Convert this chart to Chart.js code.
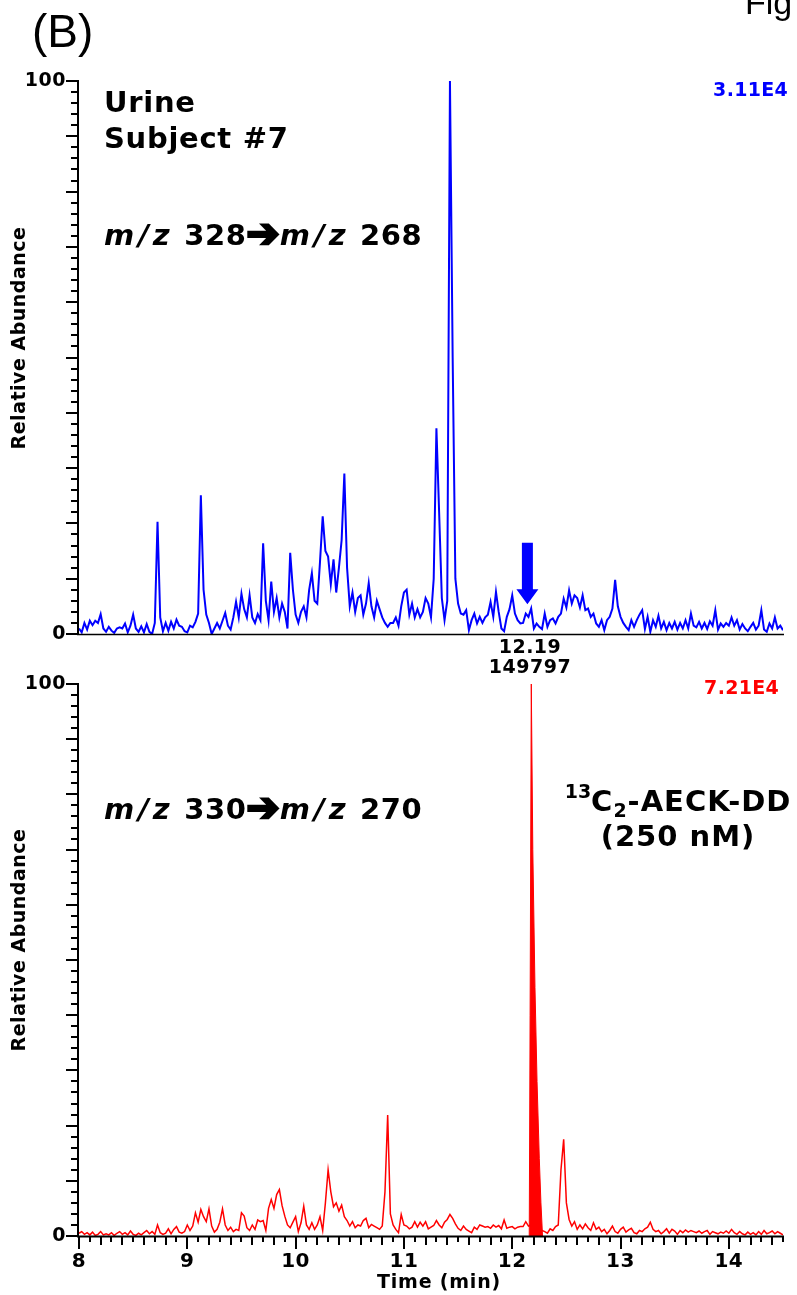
<!DOCTYPE html>
<html>
<head>
<meta charset="utf-8">
<script src="https://cdn.jsdelivr.net/npm/chart.js@4.4.1/dist/chart.umd.min.js"></script>
<style>
  html, body { margin: 0; padding: 0; background: #fff; }
  #wrap { position: relative; width: 797px; height: 1295px; overflow: hidden; }
  canvas { position: absolute; left: 0; }
  #top { top: 0; }
  #bot { top: 640px; }
</style>
</head>
<body>
<div id="wrap">
  <canvas id="top" width="797" height="700"></canvas>
  <canvas id="bot" width="797" height="655"></canvas>
</div>
<script>
// sampling grid of the chromatograms (min)
const T0 = 8.0;
const DT = 0.025;

// m/z 328 -> 268, relative abundance (%)
const blueAbund = [
  1.0, 0.3, 2.0, 0.8, 2.4, 1.6, 2.4, 2.0, 3.6, 1.0,
  0.4, 1.3, 0.6, 0.2, 1.0, 1.2, 1.0, 1.9, 0.3, 1.5,
  3.5, 1.0, 0.4, 1.4, 0.3, 1.8, 0.4, 0.0, 2.0, 20.3,
  3.0, 0.5, 2.0, 0.6, 2.2, 1.0, 2.6, 1.5, 1.3, 0.5,
  0.3, 1.5, 1.2, 2.2, 3.7, 25.1, 8.0, 3.5, 2.0, 0.0,
  1.0, 2.0, 1.0, 2.4, 3.8, 1.5, 0.8, 3.0, 5.8, 3.0,
  7.3, 4.5, 3.0, 7.0, 3.0, 2.0, 3.6, 2.5, 16.4, 6.0,
  2.5, 9.5, 4.0, 6.5, 3.0, 5.5, 4.0, 1.0, 14.7, 8.0,
  3.5, 2.0, 4.0, 5.0, 3.0, 8.0, 11.0, 6.0, 5.5, 13.0,
  21.3, 15.0, 14.0, 9.0, 13.5, 7.5, 12.0, 17.0, 29.0, 12.0,
  5.0, 7.5, 4.0, 6.5, 7.0, 3.5, 5.5, 9.2, 5.0, 3.0,
  6.0, 4.5, 3.0, 2.0, 1.3, 2.0, 2.0, 3.0, 1.5, 5.0,
  7.5, 8.0, 3.5, 5.5, 3.0, 4.5, 3.0, 4.0, 6.5, 5.5,
  3.0, 10.0, 37.2, 22.0, 6.5, 2.5, 6.0, 100, 50, 10,
  5.5, 3.7, 3.5, 4.3, 0.7, 2.5, 3.7, 1.9, 3.1, 2.0,
  3.0, 3.5, 5.8, 3.1, 7.6, 4.0, 1.0, 0.5, 3.1, 4.5,
  7.0, 3.7, 2.5, 1.9, 2.0, 3.7, 3.1, 4.6, 1.0, 1.9,
  1.3, 0.9, 3.7, 1.3, 2.5, 2.8, 1.9, 3.1, 3.7, 6.4,
  4.8, 7.9, 5.5, 7.0, 6.5, 4.8, 7.0, 4.3, 4.6, 3.1,
  3.7, 1.9, 1.3, 2.5, 0.7, 2.5, 3.1, 4.6, 9.8, 5.0,
  3.1, 2.0, 1.3, 0.7, 2.5, 1.3, 2.5, 3.5, 4.3, 0.9,
  3.1, 0.4, 2.5, 1.3, 3.3, 1.0, 2.2, 0.7, 2.0, 1.0,
  2.2, 0.8, 2.0, 1.0, 2.5, 1.0, 3.7, 1.5, 1.2, 2.2,
  1.0, 2.0, 0.9, 2.3, 1.5, 4.3, 0.8, 1.9, 1.3, 2.0,
  1.5, 3.0, 1.5, 2.5, 0.8, 1.8, 1.0, 0.5, 1.3, 2.0,
  0.8, 1.5, 4.3, 0.8, 0.4, 1.9, 1.0, 3.0, 1.0, 1.5, 0.7
];

// m/z 330 -> 270, relative abundance (%)
const redAbund = [
  0.5, 0.8, 0.3, 0.6, 0.2, 0.7, 0.1, 0.3, 0.8, 0.2,
  0.4, 0.2, 0.6, 0.1, 0.5, 0.8, 0.3, 0.6, 0.2, 0.9,
  0.3, 0.1, 0.5, 0.2, 0.6, 1.0, 0.4, 0.8, 0.3, 2.0,
  0.6, 0.3, 0.5, 1.3, 0.4, 1.2, 1.7, 0.7, 0.5, 0.8,
  2.0, 1.0, 1.8, 4.2, 2.5, 4.8, 3.5, 2.6, 4.9, 1.8,
  0.7, 1.2, 2.5, 4.9, 2.0, 1.0, 1.6, 0.8, 1.2, 1.0,
  4.2, 3.6, 1.5, 1.0, 2.0, 1.2, 2.9, 2.6, 2.8, 1.0,
  5.0, 6.6, 5.0, 7.5, 8.4, 5.5, 3.6, 2.0, 1.5, 2.5,
  3.5, 0.8, 2.4, 5.4, 2.0, 1.2, 2.4, 1.2, 2.0, 3.5,
  1.0, 6.0, 12.0, 8.0, 5.3, 6.0, 4.5, 5.6, 3.5, 2.8,
  1.8, 2.6, 1.5, 2.0, 1.8, 2.8, 3.2, 1.5, 2.1, 1.8,
  1.5, 1.2, 1.8, 8.0, 21.9, 4.0, 2.0, 1.2, 0.6, 3.9,
  2.0, 1.8, 1.3, 1.6, 2.6, 1.6, 2.5, 1.8, 2.6, 1.3,
  1.6, 1.9, 2.8, 2.0, 1.5, 2.5, 3.0, 3.9, 3.2, 2.2,
  1.4, 1.0, 1.8, 1.2, 0.9, 0.6, 1.6, 1.2, 2.0, 1.8,
  1.6, 1.7, 1.4, 2.0, 1.6, 1.9, 1.3, 2.9, 1.4, 1.6,
  1.7, 1.3, 1.6, 1.7, 1.7, 2.6, 1.8, 2.0, 2.0, 2.0,
  1.5, 1.0, 0.8, 0.5, 1.3, 1.0, 1.7, 2.0, 12.0, 17.5,
  6.0, 3.0, 1.8, 2.6, 1.2, 2.0, 1.3, 2.2, 1.5, 1.0,
  2.4, 1.2, 1.6, 0.8, 1.2, 0.4, 1.0, 1.8, 0.8, 0.5,
  1.2, 1.6, 0.7, 1.1, 1.4, 0.6, 0.4, 1.0, 0.8, 1.3,
  1.6, 2.5, 1.2, 0.8, 1.0, 0.4, 0.8, 1.3, 0.5, 1.2,
  0.9, 0.3, 1.0, 0.6, 1.1, 0.7, 1.0, 0.8, 0.6, 0.9,
  0.5, 0.8, 1.0, 0.3, 0.8, 0.6, 0.4, 0.7, 0.5, 0.9,
  0.5, 1.2, 0.6, 0.3, 0.8, 0.4, 0.2, 0.7, 0.3, 0.6,
  0.2, 0.8, 0.3, 1.0, 0.4, 0.6, 0.9, 0.4, 0.8, 0.5, 0.2
];

// internal standard peak (dense, drawn filled)
const redPeakT = [12.157, 12.165, 12.176, 12.19, 12.21, 12.229, 12.25, 12.265, 12.28];
const redPeakV = [0, 40, 100, 70, 45, 28, 14, 6, 0];

// blue arrow marking the expected analyte position
const arrowT = 12.14;
const arrowTop = 16.5, arrowHead = 8.1, arrowTip = 5.4;

const xTickLabels = [8, 9, 10, 11, 12, 13, 14];
const yTickLabels = [0, 100];

const times = blueAbund.map((_, i) => +(T0 + i * DT).toFixed(3));
const pts = (ts, vs) => vs.map((v, i) => ({ x: ts[i], y: v }));

const BOLD = '"DejaVu Sans", Verdana, sans-serif';

function runs(ctx, parts, x, y) {
  parts.forEach((p) => {
    ctx.font = p.f;
    ctx.letterSpacing = p.ls || "0px";
    ctx.fillText(p.t, x, y + (p.dy || 0));
    if (p.stroke) {
      ctx.lineWidth = p.stroke;
      ctx.strokeText(p.t, x, y + (p.dy || 0));
    }
    x += ctx.measureText(p.t).width + (p.gap || 0);
  });
  ctx.letterSpacing = "0px";
}

function runsWidth(ctx, parts) {
  let w = 0;
  parts.forEach((p) => {
    ctx.font = p.f;
    ctx.letterSpacing = p.ls || "0px";
    w += ctx.measureText(p.t).width + (p.gap || 0);
  });
  ctx.letterSpacing = "0px";
  return w;
}

function drawAxes(chart, panel) {
  const { ctx, chartArea: a, scales: { x, y } } = chart;
  const off = panel.offset;
  ctx.save();
  ctx.strokeStyle = "#000";
  ctx.fillStyle = "#000";

  // y axis line + ticks
  ctx.lineWidth = 2;
  ctx.beginPath();
  ctx.moveTo(a.left - 1, y.getPixelForValue(100) - 1);
  ctx.lineTo(a.left - 1, y.getPixelForValue(0) + 1);
  ctx.stroke();
  ctx.lineWidth = 2;
  for (let k = 0; k <= 100; k += 2) {
    const py = Math.round(y.getPixelForValue(k));
    const len = k % 10 === 0 ? 12 : 7;
    ctx.beginPath();
    ctx.moveTo(a.left - 1 - len, py);
    ctx.lineTo(a.left - 1, py);
    ctx.stroke();
  }
  ctx.font = "bold 19px " + BOLD;
  ctx.letterSpacing = "0.5px";
  ctx.textAlign = "right";
  ctx.textBaseline = "middle";
  yTickLabels.forEach((v) => ctx.fillText(String(v), a.left - 13, y.getPixelForValue(v)));

  // x axis line
  ctx.lineWidth = panel.bottom ? 2 : 1.5;
  ctx.beginPath();
  ctx.moveTo(a.left - 2, a.bottom + 0.5);
  ctx.lineTo(x.getPixelForValue(14.5) + 1, a.bottom + 0.5);
  ctx.stroke();

  if (panel.bottom) {
    ctx.lineWidth = 2;
    for (let k = 80; k <= 145; k++) {
      const px = Math.round(x.getPixelForValue(k / 10));
      const len = k % 10 === 0 ? 12 : k % 2 === 0 ? 8 : 5;
      ctx.beginPath();
      ctx.moveTo(px, a.bottom + 1);
      ctx.lineTo(px, a.bottom + 1 + len);
      ctx.stroke();
    }
    ctx.font = "bold 20px " + BOLD;
    ctx.letterSpacing = "0.5px";
    ctx.textAlign = "center";
    xTickLabels.forEach((t) => ctx.fillText(String(t), x.getPixelForValue(t), 1262 - off));
    ctx.font = "bold 19px " + BOLD;
    ctx.letterSpacing = "0.8px";
    ctx.fillText("Time (min)", 439, 1283 - off);
  }

  // y title
  ctx.save();
  ctx.translate(20, panel.titleY - off);
  ctx.rotate(-Math.PI / 2);
  ctx.font = "bold 19px " + BOLD;
  ctx.letterSpacing = "0.5px";
  ctx.textAlign = "center";
  ctx.fillText("Relative Abundance", 0, 0);
  ctx.restore();

  // scale factor label
  ctx.font = "bold 19px " + BOLD;
  ctx.letterSpacing = "0.3px";
  ctx.textAlign = "right";
  ctx.fillStyle = panel.color;
  ctx.fillText(panel.scaleText, panel.scaleX, panel.scaleY - off);

  // transition label
  ctx.fillStyle = "#000";
  ctx.strokeStyle = "#000";
  ctx.textAlign = "left";
  const big = "bold 29px " + BOLD;
  const bigI = "italic bold 29px " + BOLD;
  const arrowF = "bold 40px " + BOLD;
  runs(ctx, [
    { t: "m/z", f: bigI, ls: "4px" }, { t: " " + panel.from, f: big, ls: "0.5px" },
    { t: "\u2794", f: arrowF, stroke: 2.5 },
    { t: "m/z", f: bigI, ls: "4px" }, { t: " " + panel.to, f: big, ls: "0.5px" }
  ], 104, panel.mzY - off);

  panel.extra(ctx, chart, off);
  ctx.restore();
}

function makePanel(id, panel, datasets) {
  return new Chart(document.getElementById(id), {
    type: "line",
    data: { datasets },
    options: {
      responsive: false,
      animation: false,
      events: [],
      layout: { padding: panel.padding },
      plugins: { legend: { display: false }, tooltip: { enabled: false } },
      elements: { point: { radius: 0 }, line: { tension: 0 } },
      scales: {
        x: { type: "linear", min: 8, max: 14.5, display: false },
        y: { type: "linear", min: 0, max: 100, display: false }
      }
    },
    plugins: [{ id: "axes" + id, afterDatasetsDraw: (c) => drawAxes(c, panel) }]
  });
}

// top panel
makePanel("top", {
  offset: 0, bottom: false, padding: { left: 79, right: 14, top: 81, bottom: 66 },
  titleY: 338, color: "#0000ff", scaleText: "3.11E4", scaleX: 788, scaleY: 91,
  from: "328", to: "268", mzY: 237,
  extra: (ctx, chart, off) => {
    const { x, y } = chart.scales;
    // corner text
    ctx.font = "46px \"Liberation Sans\", Arial, sans-serif";
    ctx.letterSpacing = "0px";
    ctx.textAlign = "left";
    ctx.textBaseline = "alphabetic";
    ctx.fillText("(B)", 32, 47);
    ctx.font = "34px \"Liberation Sans\", Arial, sans-serif";
    ctx.fillText("Fig", 745, 14);
    ctx.textBaseline = "middle";
    ctx.font = "bold 29px " + BOLD;
    ctx.letterSpacing = "0.7px";
    ctx.fillText("Urine", 104, 104);
    ctx.fillText("Subject #7", 104, 140);
    ctx.letterSpacing = "0px";
    // arrow
    const ax = x.getPixelForValue(arrowT);
    const yt = y.getPixelForValue(arrowTop), yh = y.getPixelForValue(arrowHead), yp = y.getPixelForValue(arrowTip);
    ctx.fillStyle = "#0000ff";
    ctx.beginPath();
    ctx.moveTo(ax - 5.5, yt); ctx.lineTo(ax + 5.5, yt); ctx.lineTo(ax + 5.5, yh);
    ctx.lineTo(ax + 11, yh); ctx.lineTo(ax, yp); ctx.lineTo(ax - 11, yh); ctx.lineTo(ax - 5.5, yh);
    ctx.closePath();
    ctx.fill();
    // peak annotation (belongs to the lower trace)
    ctx.fillStyle = "#000";
    ctx.textAlign = "center";
    ctx.font = "bold 19px " + BOLD;
    ctx.letterSpacing = "0.5px";
    ctx.fillText("12.19", 530, 648);
    ctx.fillText("149797", 530, 668);
  }
}, [{
  data: pts(times, blueAbund), borderColor: "#0000ff", borderWidth: 2, fill: false
}]);

// bottom panel
makePanel("bot", {
  offset: 640, bottom: true, padding: { left: 79, right: 14, top: 44, bottom: 59 },
  titleY: 940, color: "#ff0000", scaleText: "7.21E4", scaleX: 779, scaleY: 689,
  from: "330", to: "270", mzY: 811,
  extra: (ctx, chart, off) => {
    const big = "bold 29px " + BOLD;
    const small = "bold 19px " + BOLD;
    const parts = [
      { t: "13", f: small, dy: -10 }, { t: "C", f: big, ls: "1px" }, { t: "2", f: small, dy: 9, ls: "1px" },
      { t: "-AECK-DD", f: big, ls: "1px" }
    ];
    ctx.fillStyle = "#000";
    ctx.textAlign = "left";
    ctx.textBaseline = "middle";
    const w = runsWidth(ctx, parts);
    runs(ctx, parts, 678 - w / 2, 803 - off);
    ctx.textAlign = "center";
    ctx.font = big;
    ctx.letterSpacing = "1px";
    ctx.fillText("(250 nM)", 678, 838 - off);
    ctx.letterSpacing = "0px";
  }
}, [{
  data: pts(redPeakT, redPeakV), borderColor: "#ff0000", backgroundColor: "#ff0000",
  borderWidth: 1, fill: "origin"
}, {
  data: pts(times, redAbund), borderColor: "#ff0000", borderWidth: 1.5, fill: false
}]);
</script>
</body>
</html>
